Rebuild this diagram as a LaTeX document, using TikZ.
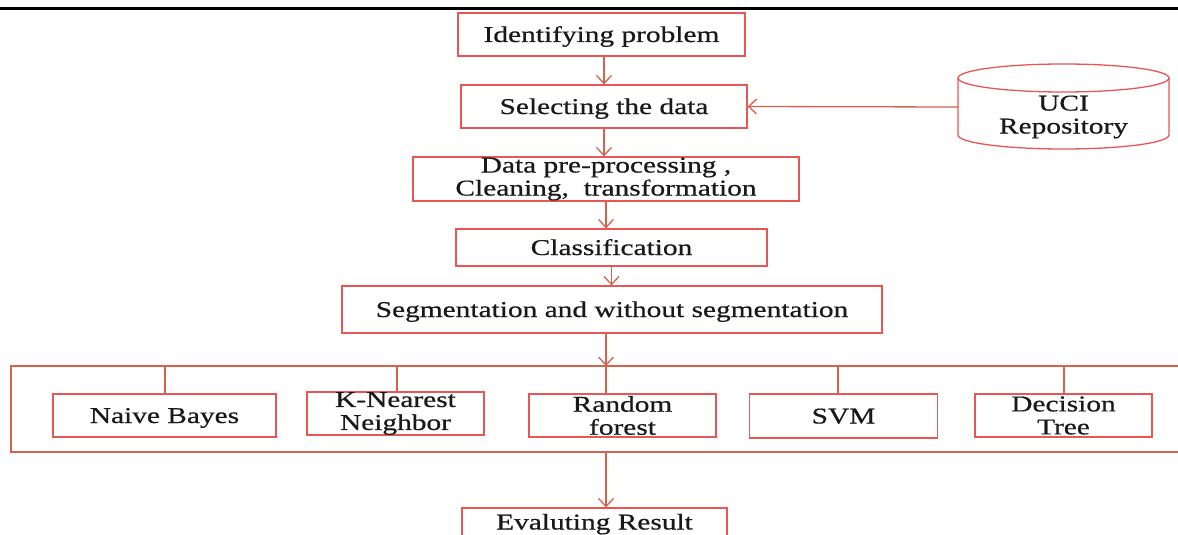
\documentclass[tikz,border=0pt]{standalone}
\usepackage{fontspec}
\setmainfont{Liberation Serif}[FakeStretch=1.3,FakeBold=0.6]
\usetikzlibrary{arrows.meta,calc}
\definecolor{boxcol}{RGB}{232,86,86}
\definecolor{linecol}{RGB}{214,98,78}
\definecolor{txtcol}{RGB}{25,25,25}
\begin{document}
\begin{tikzpicture}[x=1pt,y=1pt,
  stepbox/.style={draw=boxcol,line width=1.3pt,inner sep=0pt,align=center,
     text=txtcol,font=\fontsize{22.6}{23}\selectfont},
  onebox/.style={stepbox,text height=15pt,text depth=0pt},
  arr/.style={draw=linecol,line width=1.3pt,-{Straight Barb[length=8pt,width=15pt]}},
  ln/.style={draw=linecol,line width=1.3pt}]
\clip (0,0) rectangle (1178,-535);
\fill[white] (0,0) rectangle (1178,-535);
% header rule
\draw[black,line width=3pt] (0,-8.5) -- (1178,-8.5);
% main chain
\node[onebox,minimum width=287pt,minimum height=43pt] (idp) at (601.5,-34.5) {Identifying problem};
\node[onebox,minimum width=286pt,minimum height=43pt] (sel) at (604,-106.5) {Selecting the data};
\node[stepbox,minimum width=386pt,minimum height=44pt] (pre) at (606,-179) {Data pre-processing ,\\ Cleaning,\ \ transformation};
\node[onebox,minimum width=311pt,minimum height=37pt] (cls) at (611.5,-247.5) {Classification};
\node[onebox,minimum width=540pt,minimum height=47pt] (seg) at (612,-309.5) {Segmentation and without segmentation};
% UCI cylinder
\draw[boxcol,line width=1.3pt,fill=white] (958,-78) -- (958,-135) arc[start angle=180,end angle=360,x radius=105.5pt,y radius=14pt] -- (1169,-78);
\draw[boxcol,line width=1.3pt] (1063.5,-78) ellipse[x radius=105.5pt,y radius=14pt];
\node[align=center,text=txtcol,font=\fontsize{22.6}{23}\selectfont,inner sep=0pt] (uci) at (1063.5,-117) {UCI\\Repository};
\coordinate (ucil) at (958,-107);
% frame
\draw[ln,line width=1.5pt] (1190,-366) -- (11,-366) -- (11,-452) -- (1190,-452);
\coordinate (ftop) at (606,-366);
\coordinate (fbot) at (606,-452);
\coordinate (t1) at (165,-366);
\coordinate (t2) at (397,-366);
\coordinate (t4) at (838,-366);
\coordinate (t5) at (1064,-366);
% algorithms
\node[onebox,minimum width=223pt,minimum height=43pt] (nb) at (164.5,-415.5) {Naive Bayes};
\node[stepbox,minimum width=177pt,minimum height=43pt] (knn) at (395.5,-413.5) {K-Nearest\\Neighbor};
\node[stepbox,minimum width=187pt,minimum height=43pt] (rf) at (622.5,-415.5) {Random\\forest};
\node[onebox,minimum width=188pt,minimum height=44pt] (svm) at (843.5,-416) {SVM};
\node[stepbox,minimum width=177pt,minimum height=43pt] (dt) at (1063.5,-415.5) {Decision\\Tree};
\node[onebox,minimum width=265pt,minimum height=28pt] (eval) at (594.5,-522) {Evaluting Result};
% connectors
\draw[arr] (idp.south -| sel) -- (sel.north);
\draw[arr] (ucil) -- (sel.east);
\draw[arr] (sel.south) -- (sel.south |- pre.north);
\draw[arr] (pre.south) -- (pre.south |- cls.north);
\draw[arr] (cls.south) -- (cls.south |- seg.north);
\draw[arr] (seg.south -| ftop) -- (ftop);
\draw[ln] (ftop) -- (ftop |- rf.north);
\draw[ln] (t1) -- (t1 |- nb.north);
\draw[ln] (t2) -- (t2 |- knn.north);
\draw[ln] (t4) -- (t4 |- svm.north);
\draw[ln] (t5) -- (t5 |- dt.north);
\draw[arr] (fbot) -- (fbot |- eval.north);
\end{tikzpicture}
\end{document}
